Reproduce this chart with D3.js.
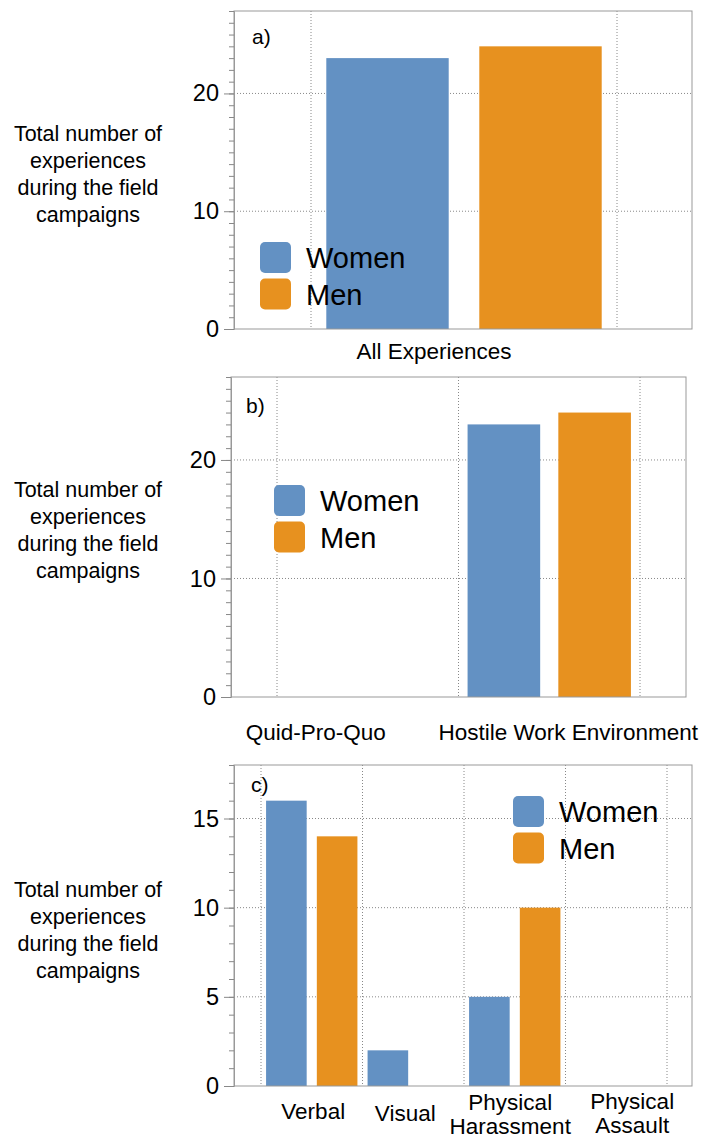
<!DOCTYPE html>
<html lang="en">
<head>
<meta charset="utf-8">
<title>Experiences during field campaigns</title>
<script src="https://cdn.jsdelivr.net/npm/d3@7"></script>
<style>
  body { margin: 0; background: #fff; }
  text { font-family: Helvetica, Arial, "Liberation Sans", sans-serif; fill: #000; }
</style>
</head>
<body>
<div id="chart"></div>
<script>
// data
var series = ["Women", "Men"];
var colors = ["#6391c3", "#e7911f"];

var catsA = ["All Experiences"];
var womenA = [23];
var menA = [24];

var catsB = ["Quid-Pro-Quo", "Hostile Work Environment"];
var womenB = [0, 23];
var menB = [0, 24];

var catsC = ["Verbal", "Visual", "Physical\nHarassment", "Physical\nAssault"];
var womenC = [16, 2, 5, 0];
var menC = [14, 0, 10, 0];

var ticksAB = [0, 10, 20];
var ticksC = [0, 5, 10, 15];
var yLabel = ["Total number of", "experiences", "during the field", "campaigns"];

var W = 722, H = 1139;
var svg = d3.select("#chart").append("svg")
    .attr("width", W).attr("height", H);

// one panel = frame + dotted grid + grouped bars + legend
function panel(p) {
    var g = svg.append("g");
    var y = d3.scaleLinear().domain([0, p.yMax]).range([p.bottom, p.top]);
    var x = d3.scaleBand().domain(p.cats).range(p.band).paddingInner(0).paddingOuter(0);
    var xs = d3.scaleBand().domain(series).range([0, x.bandwidth()])
        .paddingInner(0.2).paddingOuter(0.1);

    // grid
    var edges = p.cats.map(function(c){ return x(c); }).concat([p.band[1]]);
    g.selectAll(".vg").data(edges).enter().append("line")
        .attr("x1", function(d){ return d; }).attr("x2", function(d){ return d; })
        .attr("y1", p.top).attr("y2", p.bottom)
        .attr("stroke", "#888").attr("stroke-width", 1).attr("stroke-dasharray", "1,2");
    g.selectAll(".hg").data(p.ticks.filter(function(t){ return t > 0; })).enter().append("line")
        .attr("x1", p.left).attr("x2", p.right)
        .attr("y1", function(d){ return y(d); }).attr("y2", function(d){ return y(d); })
        .attr("stroke", "#888").attr("stroke-width", 1).attr("stroke-dasharray", "1,2");

    // bars
    var rows = [];
    p.cats.forEach(function(c, i) {
        rows.push({cat: c, s: 0, v: p.women[i]});
        rows.push({cat: c, s: 1, v: p.men[i]});
    });
    g.selectAll(".bar").data(rows.filter(function(d){ return d.v > 0; })).enter().append("rect")
        .attr("x", function(d){ return x(d.cat) + xs(series[d.s]); })
        .attr("y", function(d){ return y(d.v); })
        .attr("width", xs.bandwidth())
        .attr("height", function(d){ return y(0) - y(d.v); })
        .attr("fill", function(d){ return colors[d.s]; });

    // frame
    g.append("rect")
        .attr("x", p.left).attr("y", p.top)
        .attr("width", p.right - p.left).attr("height", p.bottom - p.top)
        .attr("fill", "none").attr("stroke", "#999").attr("stroke-width", 1);

    // y axis with minor ticks
    var yAxis = d3.axisLeft(y).tickValues(d3.range(0, p.yMax + 1))
        .tickSize(5).tickFormat("");
    var ga = g.append("g").attr("transform", "translate(" + p.left + ",0)").call(yAxis);
    ga.select(".domain").attr("stroke", "#999");
    ga.selectAll(".tick line").attr("stroke", "#888");
    var gm = g.append("g").attr("transform", "translate(" + p.left + ",0)")
        .call(d3.axisLeft(y).tickValues(p.ticks).tickSize(10).tickPadding(5));
    gm.select(".domain").remove();
    gm.selectAll(".tick line").attr("stroke", "#888");
    gm.selectAll(".tick text").style("font-size", "23.5px").attr("fill", "#000");

    // x labels
    p.cats.forEach(function(c, i) {
        var lines = c.split("\n");
        var cx = x(c) + x.bandwidth() / 2 + p.shift[i];
        var t = g.append("text")
            .attr("y", p.labelY[i])
            .attr("text-anchor", "middle")
            .style("font-size", "22.5px");
        lines.forEach(function(l, j) {
            t.append("tspan").attr("x", cx).attr("dy", j === 0 ? 0 : 24).text(l);
        });
    });

    // panel letter
    g.append("text").attr("x", p.tag[0]).attr("y", p.tag[1])
        .style("font-size", "21px").text(p.name);

    // y label
    var yl = g.append("text").attr("text-anchor", "middle").style("font-size", "21.5px");
    yLabel.forEach(function(l, j) {
        yl.append("tspan").attr("x", 88).attr("y", p.yLabelTop + j * 27).text(l);
    });

    // legend
    series.forEach(function(s, i) {
        g.append("rect")
            .attr("x", p.legend[0]).attr("y", p.legend[1] + i * 36.5)
            .attr("width", 31).attr("height", 31).attr("rx", 5)
            .attr("fill", colors[i]);
        g.append("text")
            .attr("x", p.legend[0] + 46).attr("y", p.legend[1] + 26 + i * 36.5)
            .style("font-size", "29px").text(s);
    });
}

panel({
    name: "a)", cats: catsA, women: womenA, men: menA, yMax: 27, ticks: ticksAB,
    left: 234, right: 692, top: 11, bottom: 329, band: [311, 617],
    shift: [-30], labelY: [359], tag: [252, 44], yLabelTop: 141, legend: [260, 242]
});
panel({
    name: "b)", cats: catsB, women: womenB, men: menB, yMax: 27, ticks: ticksAB,
    left: 231, right: 686, top: 377, bottom: 697, band: [277, 640],
    shift: [-52, 19], labelY: [740, 740], tag: [246, 413], yLabelTop: 497, legend: [274, 485]
});
panel({
    name: "c)", cats: catsC, women: womenC, men: menC, yMax: 18, ticks: ticksC,
    left: 234, right: 692, top: 765, bottom: 1086, band: [261, 667],
    shift: [1.5, -8, -4.5, 16], labelY: [1119, 1121, 1110, 1109], tag: [251, 792],
    yLabelTop: 897, legend: [513, 796]
});
</script>
</body>
</html>
